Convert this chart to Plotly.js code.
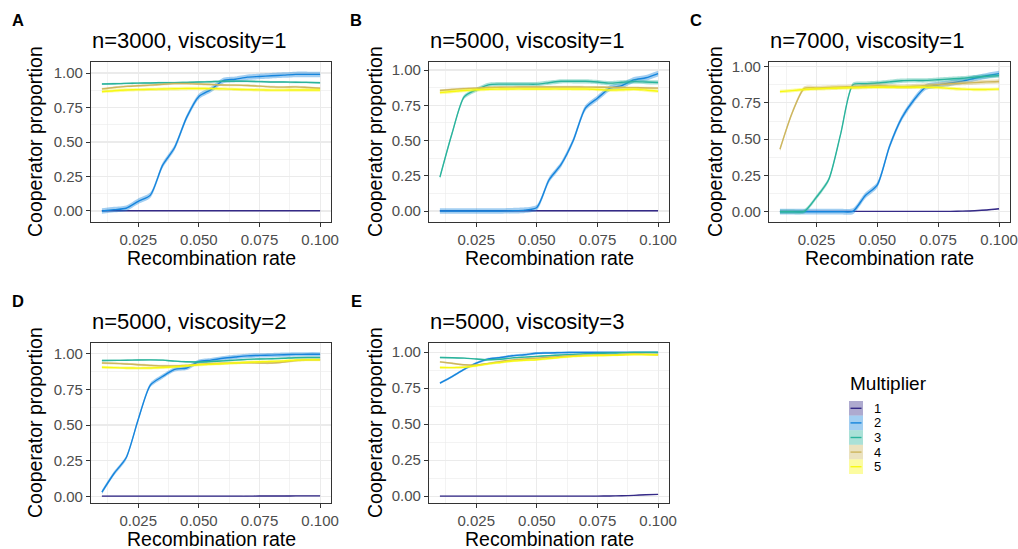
<!DOCTYPE html>
<html>
<head>
<meta charset="utf-8">
<script src="https://cdn.plot.ly/plotly-3.0.1.min.js"></script>
<style>html,body{margin:0;padding:0;background:#fff;}#chart{width:1018px;height:549px;}</style>
</head>
<body>
<div id="chart"></div>
<script>
// ---------- data ----------
const recomb = [0.010,0.015,0.020,0.025,0.030,0.035,0.040,0.045,0.050,0.055,0.060,0.065,0.070,0.075,0.080,0.085,0.090,0.095,0.100];
const multipliers = ['1','2','3','4','5'];
const colors = ['#352A87','#1685DD','#2AB39C','#CDB65E','#F7F812'];
const panelTitles = ['n=3000, viscosity=1','n=5000, viscosity=1','n=7000, viscosity=1','n=5000, viscosity=2','n=5000, viscosity=3'];
const panelTags = ['A','B','C','D','E'];
const xTitle = 'Recombination rate';
const yTitle = 'Cooperator proportion';
const legendTitle = 'Multiplier';

// Panel A: n=3000, viscosity=1
const A_m1 = [0.002,0.002,0.002,0.002,0.002,0.002,0.002,0.002,0.002,0.002,0.002,0.002,0.002,0.002,0.002,0.002,0.002,0.002,0.002];
const A_m2 = [0.000,0.010,0.020,0.070,0.115,0.330,0.460,0.680,0.830,0.880,0.945,0.955,0.970,0.975,0.980,0.985,0.990,0.990,0.990];
const A_m3 = [0.920,0.922,0.925,0.927,0.928,0.930,0.930,0.932,0.935,0.937,0.940,0.940,0.940,0.938,0.935,0.935,0.933,0.932,0.930];
const A_m4 = [0.885,0.895,0.903,0.908,0.912,0.918,0.923,0.923,0.920,0.917,0.913,0.912,0.910,0.905,0.900,0.898,0.900,0.895,0.890];
const A_m5 = [0.865,0.872,0.877,0.880,0.882,0.884,0.886,0.888,0.888,0.887,0.885,0.882,0.880,0.878,0.876,0.876,0.877,0.877,0.877];
// Panel B: n=5000, viscosity=1
const B_m1 = [0.002,0.002,0.002,0.002,0.002,0.002,0.002,0.002,0.002,0.002,0.002,0.002,0.002,0.002,0.002,0.002,0.002,0.002,0.002];
const B_m2 = [0.000,0.000,0.000,0.000,0.000,0.000,0.002,0.006,0.025,0.220,0.330,0.500,0.730,0.800,0.870,0.890,0.930,0.945,0.975];
const B_m3 = [0.240,0.550,0.810,0.860,0.895,0.900,0.900,0.900,0.900,0.910,0.920,0.920,0.920,0.915,0.907,0.913,0.918,0.915,0.912];
const B_m4 = [0.855,0.862,0.868,0.872,0.876,0.878,0.879,0.880,0.880,0.880,0.880,0.880,0.879,0.878,0.877,0.876,0.875,0.873,0.872];
const B_m5 = [0.840,0.848,0.855,0.860,0.864,0.865,0.866,0.866,0.866,0.866,0.866,0.865,0.865,0.862,0.858,0.860,0.864,0.858,0.850];
// Panel C: n=7000, viscosity=1
const C_m1 = [0.002,0.002,0.002,0.002,0.002,0.002,0.002,0.002,0.002,0.002,0.002,0.002,0.002,0.002,0.002,0.004,0.007,0.012,0.020];
const C_m2 = [0.000,0.000,0.000,0.000,0.000,0.000,0.003,0.110,0.185,0.450,0.645,0.770,0.860,0.875,0.887,0.900,0.920,0.937,0.952];
const C_m3 = [0.000,0.000,0.002,0.100,0.220,0.540,0.875,0.882,0.887,0.895,0.903,0.905,0.905,0.910,0.915,0.920,0.928,0.933,0.938];
const C_m4 = [0.430,0.680,0.850,0.853,0.857,0.860,0.862,0.865,0.868,0.866,0.862,0.865,0.870,0.876,0.882,0.886,0.890,0.895,0.898];
const C_m5 = [0.828,0.835,0.842,0.847,0.850,0.853,0.855,0.857,0.858,0.858,0.858,0.858,0.858,0.856,0.850,0.845,0.842,0.843,0.845];
// Panel D: n=5000, viscosity=2
const D_m1 = [0.001,0.001,0.001,0.001,0.001,0.001,0.001,0.001,0.001,0.001,0.001,0.001,0.001,0.002,0.002,0.002,0.003,0.003,0.003];
const D_m2 = [0.030,0.160,0.270,0.540,0.780,0.840,0.890,0.900,0.945,0.955,0.968,0.977,0.985,0.988,0.990,0.993,0.995,0.996,0.996];
const D_m3 = [0.952,0.953,0.954,0.956,0.957,0.955,0.948,0.943,0.942,0.945,0.950,0.955,0.960,0.963,0.965,0.968,0.972,0.973,0.973];
const D_m4 = [0.935,0.932,0.928,0.923,0.918,0.914,0.914,0.918,0.925,0.930,0.933,0.935,0.937,0.935,0.935,0.942,0.952,0.957,0.958];
const D_m5 = [0.905,0.902,0.900,0.899,0.900,0.903,0.908,0.915,0.922,0.926,0.930,0.935,0.940,0.943,0.946,0.950,0.955,0.957,0.957];
// Panel E: n=5000, viscosity=3
const E_m1 = [0.001,0.001,0.001,0.001,0.001,0.001,0.001,0.001,0.001,0.001,0.001,0.001,0.001,0.001,0.002,0.003,0.006,0.010,0.013];
const E_m2 = [0.784,0.830,0.880,0.923,0.952,0.962,0.975,0.982,0.992,0.994,0.996,0.998,0.998,0.998,0.998,0.998,0.998,0.998,0.997];
const E_m3 = [0.962,0.961,0.958,0.952,0.947,0.950,0.960,0.965,0.970,0.975,0.980,0.984,0.988,0.990,0.993,0.995,0.997,0.998,0.998];
const E_m4 = [0.932,0.922,0.912,0.910,0.922,0.935,0.945,0.952,0.958,0.964,0.970,0.975,0.978,0.980,0.980,0.983,0.987,0.985,0.982];
const E_m5 = [0.893,0.892,0.895,0.905,0.918,0.928,0.938,0.943,0.947,0.955,0.963,0.970,0.974,0.976,0.977,0.980,0.983,0.982,0.982];

// ribbon half-widths (standard-error band) per multiplier
const A_se = [0.003,0.020,0.007,0.008,0.012];
const B_se = [0.003,0.020,0.015,0.008,0.012];
const C_se = [0.003,0.020,0.015,0.015,0.012];
const D_se = [0.002,0.015,0.006,0.008,0.010];
const E_se = [0.002,0.008,0.005,0.006,0.008];

const panels = [
  {series:[A_m1,A_m2,A_m3,A_m4,A_m5], se:A_se},
  {series:[B_m1,B_m2,B_m3,B_m4,B_m5], se:B_se},
  {series:[C_m1,C_m2,C_m3,C_m4,C_m5], se:C_se},
  {series:[D_m1,D_m2,D_m3,D_m4,D_m5], se:D_se},
  {series:[E_m1,E_m2,E_m3,E_m4,E_m5], se:E_se}
];

// ---------- layout geometry (pixels) ----------
const W = 1018, H = 549;
const boxes = [
  {l:91,  r:331,  t:62,  b:222, yr:[-0.080,1.080], ytx:35},
  {l:429, r:669,  t:62,  b:222, yr:[-0.078,1.057], ytx:375},
  {l:769, r:1010, t:62,  b:222, yr:[-0.071,1.032], ytx:715},
  {l:91,  r:331,  t:343, b:503, yr:[-0.047,1.075], ytx:35},
  {l:429, r:669,  t:343, b:503, yr:[-0.047,1.063], ytx:375}
];
const px = p => p / W;
const py = p => 1 - p / H;

function rgba(hex, a) {
  const n = parseInt(hex.slice(1), 16);
  return 'rgba(' + ((n >> 16) & 255) + ',' + ((n >> 8) & 255) + ',' + (n & 255) + ',' + a + ')';
}

const FONT = 'Liberation Sans, Arial, Helvetica, sans-serif';
const traces = [];
const layout = {
  width: W, height: H,
  margin: {l:0, r:0, t:0, b:0, autoexpand: false},
  paper_bgcolor: '#ffffff', plot_bgcolor: '#ffffff',
  showlegend: false,
  font: {family: FONT, color: '#000'},
  annotations: [], shapes: []
};

function note(text, xp, yp, opts) {
  layout.annotations.push(Object.assign({text: text, xref: 'paper', yref: 'paper', x: px(xp), y: py(yp),
    xanchor: 'center', yanchor: 'middle', showarrow: false, borderpad: 0,
    font: {family: FONT, size: 19.5, color: '#000'}}, opts || {}));
}

panels.forEach((p, i) => {
  const k = i === 0 ? '' : String(i + 1);
  const xa = 'x' + k, ya = 'y' + k;
  const bx = boxes[i];
  p.series.forEach((vals, j) => {
    const s = p.se[j];
    const lo = vals.map(v => v - s);
    const hi = vals.map(v => v + s);
    traces.push({x: recomb, y: lo, xaxis: xa, yaxis: ya, type: 'scatter', mode: 'lines',
      line: {width: 0, shape: 'spline', smoothing: 0.7, color: rgba(colors[j], 0)}, hoverinfo: 'skip', showlegend: false});
    traces.push({x: recomb, y: hi, xaxis: xa, yaxis: ya, type: 'scatter', mode: 'lines', fill: 'tonexty',
      fillcolor: rgba(colors[j], 0.4),
      line: {width: 0, shape: 'spline', smoothing: 0.7, color: rgba(colors[j], 0)}, hoverinfo: 'skip', showlegend: false});
    traces.push({x: recomb, y: vals, xaxis: xa, yaxis: ya, type: 'scatter', mode: 'lines', name: multipliers[j],
      line: {width: 1.4, shape: 'spline', smoothing: 0.7, color: colors[j]}, showlegend: false});
  });
  const axCommon = {
    showline: true, mirror: true, linecolor: '#333333', linewidth: 1.1,
    showgrid: true, gridcolor: '#EBEBEB', gridwidth: 1.1, zeroline: false,
    ticks: 'outside', ticklen: 4, tickwidth: 1, tickcolor: '#333333',
    tickfont: {family: FONT, size: 15, color: '#4D4D4D'}, automargin: false
  };
  layout['xaxis' + k] = Object.assign({}, axCommon, {
    domain: [px(bx.l), px(bx.r)], anchor: ya,
    range: [0.0055, 0.1045], tick0: 0, dtick: 0.025, tickformat: '.3f',
    minor: {tick0: 0, dtick: 0.0125, showgrid: true, gridcolor: '#EBEBEB', gridwidth: 0.6, ticks: ''}
  });
  layout['yaxis' + k] = Object.assign({}, axCommon, {
    domain: [py(bx.b), py(bx.t)], anchor: xa,
    range: bx.yr, tick0: 0, dtick: 0.25, tickformat: '.2f',
    minor: {tick0: 0, dtick: 0.125, showgrid: true, gridcolor: '#EBEBEB', gridwidth: 0.6, ticks: ''}
  });
  // axis titles
  note(xTitle, (bx.l + bx.r) / 2, bx.b + 36);
  note(yTitle, bx.ytx, (bx.t + bx.b) / 2, {textangle: -90});
  // panel title and tag
  note(panelTitles[i], bx.l, bx.t - 22, {xanchor: 'left', font: {family: FONT, size: 22, color: '#000'}});
  note('<b>' + panelTags[i] + '</b>', bx.l - 73, bx.t - 42, {font: {family: FONT, size: 16.5, color: '#000'}});
});

// ---------- legend (ggplot-style keys) ----------
note(legendTitle, 849, 383, {xanchor: 'left', font: {family: FONT, size: 19, color: '#000'}});
multipliers.forEach((m, j) => {
  const top = 401 + j * 14.6, bot = top + 14.6;
  layout.shapes.push({type: 'rect', xref: 'paper', yref: 'paper', x0: px(849), x1: px(863), y0: py(bot), y1: py(top),
    fillcolor: rgba(colors[j], 0.4), line: {width: 0}});
  layout.shapes.push({type: 'line', xref: 'paper', yref: 'paper', x0: px(850.5), x1: px(861.5), y0: py((top + bot) / 2), y1: py((top + bot) / 2),
    line: {color: colors[j], width: 1.4}});
  note(m, 873, (top + bot) / 2, {xanchor: 'left', font: {family: FONT, size: 13, color: '#000'}});
});

Plotly.newPlot('chart', traces, layout, {displayModeBar: false, staticPlot: true});
</script>
</body>
</html>
